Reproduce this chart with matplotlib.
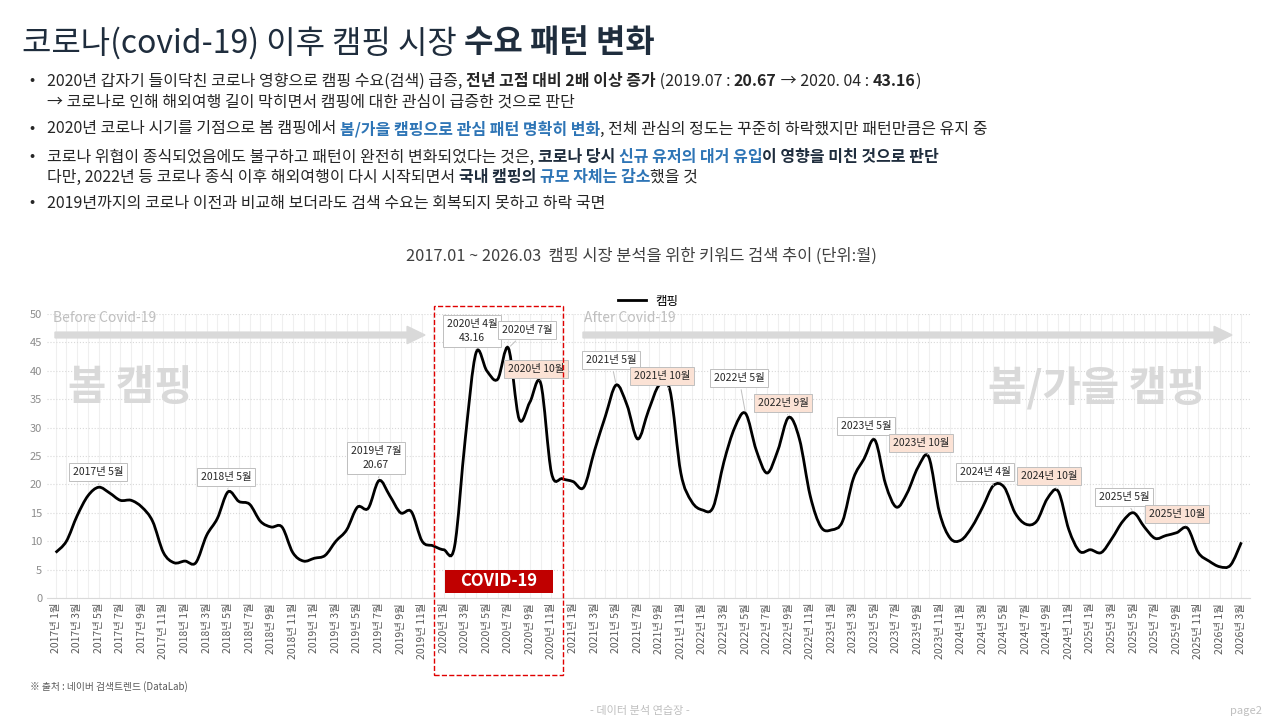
import matplotlib.pyplot as plt
from matplotlib.path import Path
from matplotlib.patches import PathPatch, Rectangle, FancyArrow

plt.rcParams['font.family'] = ['Noto Sans CJK KR', 'DejaVu Sans']

# monthly search index, 2017.01 ~ 2026.03
y2017 = [8, 10, 14.5, 18, 19.5, 18.5, 17.2, 17.2, 16, 13.5, 8, 6.2]
y2018 = [6.5, 6.2, 11, 14, 18.7, 17, 16.5, 13.5, 12.5, 12.5, 8, 6.5]
y2019 = [7, 7.5, 10, 12, 16, 15.8, 20.67, 18, 15, 15.2, 10, 9.2]
y2020 = [8.5, 9, 28, 43.16, 40, 38.5, 44, 31.5, 34.5, 37.8, 22, 21]
y2021 = [20.5, 19.5, 26, 32, 37.5, 34, 28, 33, 37.5, 36.5, 22, 17]
y2022 = [15.5, 16, 24, 30, 32.5, 26, 22, 26, 31.8, 28, 18, 12.5]
y2023 = [12, 13.5, 21, 24.5, 27.8, 20, 16, 18.5, 23, 24.8, 15, 10.5]
y2024 = [10.2, 12.5, 16, 19.8, 19.5, 15, 13, 13.5, 17.5, 18.8, 12, 8.2]
y2025 = [8.5, 8, 10.5, 13.5, 15, 12.5, 10.5, 11, 11.5, 12.3, 8, 6.5]
y2026 = [5.5, 5.8, 9.8]
values = y2017 + y2018 + y2019 + y2020 + y2021 + y2022 + y2023 + y2024 + y2025 + y2026
months = [f"{2017 + i // 12}년 {i % 12 + 1}월" for i in range(len(values))]

# (label, month index, box centre in image pixels, autumn?)
peaks = [
    ("2017년 5월", 4, (98, 472), False),
    ("2018년 5월", 16, (226, 477), False),
    ("2019년 7월\n20.67", 30, (376, 458), False),
    ("2020년 4월\n43.16", 39, (472, 331), False),
    ("2020년 7월", 42, (527, 330), False),
    ("2020년 10월", 45, (536, 369), True),
    ("2021년 5월", 52, (611, 360), False),
    ("2021년 10월", 57, (662, 376), True),
    ("2022년 5월", 64, (739, 378), False),
    ("2022년 9월", 68, (783, 403), True),
    ("2023년 5월", 76, (866, 426), False),
    ("2023년 10월", 81, (921, 443), True),
    ("2024년 4월", 87, (985, 472), False),
    ("2024년 10월", 93, (1049, 476), True),
    ("2025년 5월", 100, (1124, 497), False),
    ("2025년 10월", 105, (1177, 514), True),
]

W, H = 1280, 721
fig = plt.figure(figsize=(12.8, 7.21), dpi=100)
fig.patch.set_facecolor('white')

def fx(px): return px / W
def fy(py): return 1 - py / H

ax = fig.add_axes([fx(47), fy(598), fx(1250) - fx(47), fy(314) - fy(598)])
x = list(range(len(values)))

# smooth curve through the points (Catmull-Rom as cubic Bezier)
verts = [(x[0], values[0])]
codes = [Path.MOVETO]
n = len(values)
for i in range(n - 1):
    p0 = (x[max(i - 1, 0)], values[max(i - 1, 0)])
    p1 = (x[i], values[i]); p2 = (x[i + 1], values[i + 1])
    p3 = (x[min(i + 2, n - 1)], values[min(i + 2, n - 1)])
    c1 = (p1[0] + (p2[0] - p0[0]) / 6, p1[1] + (p2[1] - p0[1]) / 6)
    c2 = (p2[0] - (p3[0] - p1[0]) / 6, p2[1] - (p3[1] - p1[1]) / 6)
    verts += [c1, c2, p2]
    codes += [Path.CURVE4] * 3
ax.add_patch(PathPatch(Path(verts, codes), fill=False, lw=2, color='black', zorder=3))
ax.plot([], [], color='black', lw=2, label='캠핑')

ax.set_xlim(-0.8, n - 0.2)
ax.set_ylim(0, 50)
ax.set_yticks(range(0, 51, 5))
ax.set_xticks(x[::2])
ax.set_xticklabels(months[::2], rotation=90, fontsize=7.5, color='#595959')
ax.set_xticks(x, minor=True)
ax.tick_params(axis='y', labelsize=8, colors='#8c8c8c', length=0)
ax.tick_params(axis='x', length=0, which='both')
ax.grid(axis='y', color='#d9d9d9', ls=':', lw=0.8)
ax.grid(axis='x', which='both', color='#efefef', lw=0.8)
for s in ['top', 'right', 'left']:
    ax.spines[s].set_visible(False)
ax.spines['bottom'].set_color('#d9d9d9')
ax.legend(loc='lower center', bbox_to_anchor=(0.5, 1.0), frameon=False, fontsize=9,
          handlelength=2.2, borderaxespad=0.1)

for label, idx, (bx, by), autumn in peaks:
    fc = '#fbe2d5' if autumn else 'white'
    ax.annotate(label, xy=(idx, values[idx]), xytext=(fx(bx), fy(by)),
                textcoords='figure fraction', ha='center', va='center', fontsize=7.5,
                color='#262626', linespacing=1.5,
                bbox=dict(boxstyle='square,pad=0.35', fc=fc, ec='#bfbfbf', lw=0.7),
                arrowprops=dict(arrowstyle='-', color='#bfbfbf', lw=0.7), zorder=5)

# background decorations
fig.text(fx(53), fy(318), 'Before Covid-19', fontsize=10, color='#bfbfbf', va='center')
fig.text(fx(584), fy(318), 'After Covid-19', fontsize=10, color='#bfbfbf', va='center')
fig.patches.append(FancyArrow(fx(55), fy(335), fx(370), 0, width=0.008, head_width=0.024,
                              head_length=0.014, length_includes_head=True,
                              color='#d9d9d9', transform=fig.transFigure))
fig.patches.append(FancyArrow(fx(583), fy(335), fx(649), 0, width=0.008, head_width=0.024,
                              head_length=0.014, length_includes_head=True,
                              color='#d9d9d9', transform=fig.transFigure))
fig.text(fx(68), fy(388), '봄 캠핑', fontsize=30, weight='bold', color='#d9d9d9', va='center')
fig.text(fx(1205), fy(388), '봄/가을 캠핑', fontsize=30, weight='bold', color='#d9d9d9',
         va='center', ha='right')

fig.patches.append(Rectangle((fx(434), fy(675)), fx(129), fy(306) - fy(675), fill=False,
                             ec='#e00000', ls='--', lw=1, transform=fig.transFigure, zorder=6))
fig.patches.append(Rectangle((fx(445), fy(593)), fx(108), fy(570) - fy(593), fc='#c00000',
                             ec='none', transform=fig.transFigure, zorder=6))
fig.text(fx(499), fy(581.5), 'COVID-19', fontsize=12, weight='bold', color='white',
         ha='center', va='center', zorder=7)

fig.text(fx(641), fy(256), '2017.01 ~ 2026.03  캠핑 시장 분석을 위한 키워드 검색 추이 (단위:월)',
         fontsize=11.8, color='#404040', ha='center', va='center')
fig.text(fx(30), fy(687), '※ 출처 : 네이버 검색트렌드 (DataLab)', fontsize=7, color='#595959', va='center')
fig.text(0.5, fy(711), '- 데이터 분석 연습장 -', fontsize=8, color='#bfbfbf', ha='center', va='center')
fig.text(fx(1262), fy(711), 'page2', fontsize=8, color='#bfbfbf', ha='right', va='center')

# title and bullet text with mixed styles
renderer = fig.canvas.get_renderer()

def rich(px, py, parts, size):
    cur = px
    for txt, weight, color in parts:
        t = fig.text(fx(cur), fy(py), txt, fontsize=size, weight=weight, color=color, va='center')
        cur += t.get_window_extent(renderer).width

NAVY = '#1f2d3d'
TXT = '#262626'
BLUE = '#2e75b6'
rich(22, 43, [('코로나(covid-19) 이후 캠핑 시장 ', 'normal', NAVY), ('수요 패턴 변화', 'bold', NAVY)], 23)

bullets = [
    (81, [('2020년 갑자기 들이닥친 코로나 영향으로 캠핑 수요(검색) 급증, ', 'normal', TXT),
          ('전년 고점 대비 2배 이상 증가', 'bold', TXT), (' (2019.07 : ', 'normal', TXT),
          ('20.67', 'bold', TXT), (' → 2020. 04 : ', 'normal', TXT), ('43.16', 'bold', TXT),
          (')', 'normal', TXT)], True),
    (102, [('→ 코로나로 인해 해외여행 길이 막히면서 캠핑에 대한 관심이 급증한 것으로 판단', 'normal', TXT)], False),
    (129, [('2020년 코로나 시기를 기점으로 봄 캠핑에서 ', 'normal', TXT),
           ('봄/가을 캠핑으로 관심 패턴 명확히 변화', 'bold', BLUE),
           (', 전체 관심의 정도는 꾸준히 하락했지만 패턴만큼은 유지 중', 'normal', TXT)], True),
    (157, [('코로나 위협이 종식되었음에도 불구하고 패턴이 완전히 변화되었다는 것은, ', 'normal', TXT),
           ('코로나 당시 ', 'bold', NAVY), ('신규 유저의 대거 유입', 'bold', BLUE),
           ('이 영향을 미친 것으로 판단', 'bold', NAVY)], True),
    (177, [('다만, 2022년 등 코로나 종식 이후 해외여행이 다시 시작되면서 ', 'normal', TXT),
           ('국내 캠핑의 ', 'bold', NAVY), ('규모 자체는 감소', 'bold', BLUE), ('했을 것', 'normal', TXT)], False),
    (203, [('2019년까지의 코로나 이전과 비교해 보더라도 검색 수요는 회복되지 못하고 하락 국면', 'normal', TXT)], True),
]
for py, parts, dot in bullets:
    if dot:
        fig.text(fx(29), fy(py), '•', fontsize=11, color=TXT, va='center')
    rich(47, py, parts, 11.5)

fig.savefig('out.png', dpi=100)
